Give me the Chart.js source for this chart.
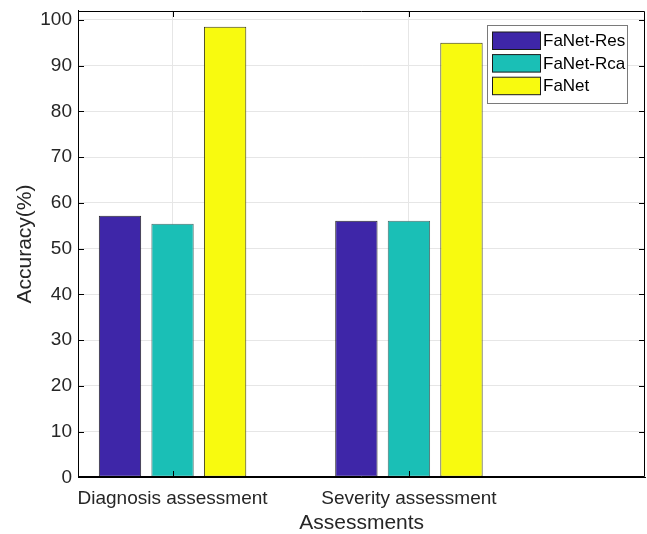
<!DOCTYPE html>
<html>
<head>
<meta charset="utf-8">
<script src="https://cdn.jsdelivr.net/npm/chart.js@4/dist/chart.umd.min.js"></script>
<style>
  html, body { margin: 0; padding: 0; background: #ffffff; }
  #wrap { width: 647px; height: 534px; }
</style>
</head>
<body>
<div id="wrap"><canvas id="c" width="647" height="534"></canvas></div>
<script>
// ---- data ----
const categories = ["Diagnosis assessment", "Severity assessment"];
const categoryPositions = [1, 2];
const seriesNames = ["FaNet-Res", "FaNet-Rca", "FaNet"];
const faNetRes = [57.2, 56.1];
const faNetRca = [55.4, 56.1];
const faNet = [98.5, 95.0];
const yTicks = [0, 10, 20, 30, 40, 50, 60, 70, 80, 90, 100];

const seriesValues = [faNetRes, faNetRca, faNet];
const fillColors = ["#3e26a8", "#1abfb6", "#f8fa0f"];
const edgeColors = ["#2a2a2a", "#4a6e6c", "#3a3a1a"];

const FONT = "'Liberation Sans', Arial, Helvetica, sans-serif";
const TXT = "#262626";

const datasets = seriesNames.map((name, i) => ({
  label: name,
  data: categoryPositions.map((x, j) => ({ x: x, y: seriesValues[i][j] })),
  backgroundColor: fillColors[i],
  borderColor: edgeColors[i],
  borderWidth: 1,
  borderSkipped: false,
  categoryPercentage: 0.667,
  barPercentage: 0.806
}));

const framePlugin = {
  id: 'frame',
  afterDraw(chart) {
    const ctx = chart.ctx;
    const a = chart.chartArea;
    const xs = chart.scales.x, ys = chart.scales.y;
    ctx.save();
    ctx.strokeStyle = '#000000';
    ctx.lineWidth = 1;
    const L = Math.round(a.left) + 0.5, R = Math.round(a.right) - 0.5;
    const T = Math.round(a.top) + 0.5, B = Math.round(a.bottom) - 0.5;
    ctx.beginPath();
    ctx.rect(L, T, R - L, B - T);
    ctx.stroke();
    const tl = 5.5;
    ctx.beginPath();
    yTicks.forEach(v => {
      const y = Math.round(ys.getPixelForValue(v)) + 0.5;
      ctx.moveTo(L, y); ctx.lineTo(L + tl, y);
      ctx.moveTo(R, y); ctx.lineTo(R - tl, y);
    });
    categoryPositions.forEach(v => {
      const x = Math.round(xs.getPixelForValue(v)) + 0.5;
      ctx.moveTo(x, T); ctx.lineTo(x, T + tl);
      ctx.moveTo(x, B); ctx.lineTo(x, B - tl);
    });
    ctx.stroke();

    // legend box (inside axes, top-right)
    const bx = Math.round(a.right - 158) + 0.5, by = Math.round(a.top + 14) + 0.5;
    const bw = 140, bh = 78;
    ctx.fillStyle = '#ffffff';
    ctx.fillRect(bx, by, bw, bh);
    ctx.strokeStyle = '#7a7a7a';
    ctx.strokeRect(bx, by, bw, bh);
    ctx.font = '17px ' + FONT;
    ctx.textBaseline = 'middle';
    ctx.textAlign = 'left';
    chart.data.datasets.forEach((ds, i) => {
      const sy = by + 6.5 + i * 22.6;
      ctx.fillStyle = ds.backgroundColor;
      ctx.fillRect(bx + 5, sy, 48, 17.5);
      ctx.strokeStyle = '#1a1a1a';
      ctx.strokeRect(bx + 5, sy, 48, 17.5);
      ctx.fillStyle = '#000000';
      ctx.fillText(ds.label, bx + 55.5, sy + 9.5);
    });
    ctx.restore();
  }
};

new Chart(document.getElementById('c'), {
  type: 'bar',
  data: { datasets: datasets },
  options: {
    responsive: false,
    animation: false,
    events: [],
    layout: { padding: { left: 0, right: 1.7, top: 10.7, bottom: 0 } },
    plugins: { legend: { display: false }, tooltip: { enabled: false } },
    scales: {
      x: {
        type: 'linear',
        offset: false,
        min: 0.6,
        max: 3.0,
        afterBuildTicks: (scale) => { scale.ticks = categoryPositions.map(v => ({ value: v })); },
        afterFit: (scale) => { scale.height = 534 - 477.3; scale.paddingLeft = 0; scale.paddingRight = 0; },
        ticks: {
          autoSkip: false,
          maxRotation: 0,
          padding: 10,
          color: TXT,
          font: { family: FONT, size: 19 },
          callback: (v) => categories[categoryPositions.indexOf(v)] ?? ''
        },
        grid: { color: '#e6e6e6', lineWidth: 1, drawTicks: false, offset: false },
        border: { display: true, color: '#000000', width: 1 },
        title: {
          display: true,
          text: 'Assessments',
          color: TXT,
          font: { family: FONT, size: 21, lineHeight: 1 },
          padding: { top: 0, bottom: 0 }
        }
      },
      y: {
        min: 0,
        max: 102,
        afterBuildTicks: (scale) => { scale.ticks = yTicks.map(v => ({ value: v })); },
        afterFit: (scale) => { scale.width = 78; scale.paddingTop = 0; scale.paddingBottom = 0; },
        ticks: {
          padding: 6,
          color: TXT,
          font: { family: FONT, size: 19 }
        },
        grid: { color: '#e6e6e6', lineWidth: 1, drawTicks: false },
        border: { display: true, color: '#000000', width: 1 },
        title: {
          display: true,
          text: 'Accuracy(%)',
          color: TXT,
          font: { family: FONT, size: 21, lineHeight: 1 },
          padding: { top: 15, bottom: 0 }
        }
      }
    }
  },
  plugins: [framePlugin]
});
</script>
</body>
</html>
